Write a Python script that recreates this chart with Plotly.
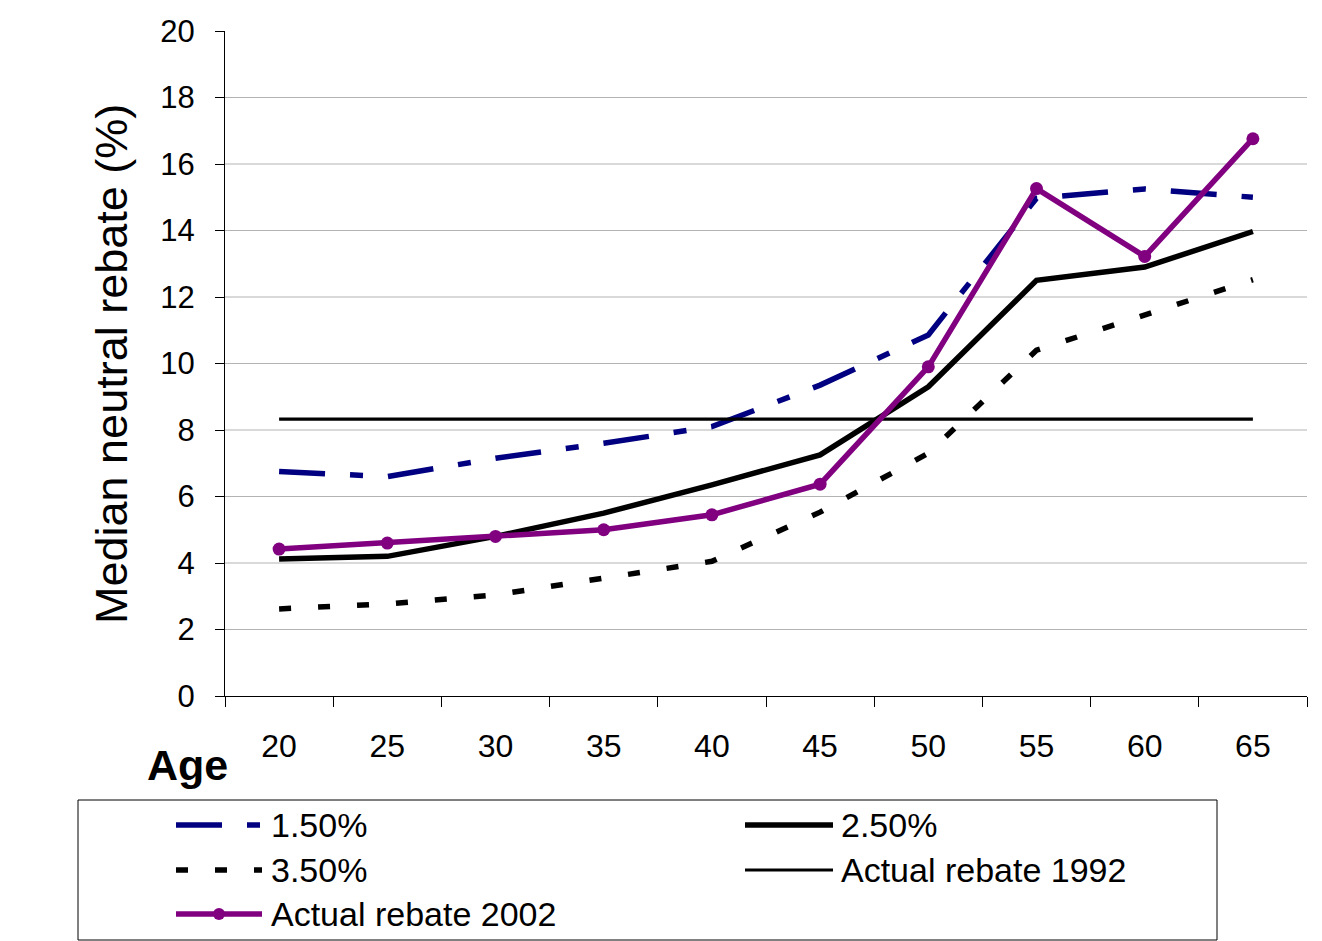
import plotly.graph_objects as go

# Age bands on the category axis
ages = ["20", "25", "30", "35", "40", "45", "50", "55", "60", "65"]

# Median neutral rebate (%) by discount rate
rate_150 = [6.75, 6.6, 7.15, 7.6, 8.1, 9.35, 10.86, 14.97, 15.25, 15.0]
rate_250 = [4.12, 4.2, 4.8, 5.5, 6.35, 7.25, 9.3, 12.5, 12.9, 13.97]
rate_350 = [2.62, 2.77, 3.04, 3.55, 4.05, 5.53, 7.3, 10.4, 11.45, 12.52]

# Actual rebates
rebate_1992 = [8.33] * 10
rebate_2002 = [4.42, 4.6, 4.8, 5.0, 5.45, 6.37, 9.9, 15.26, 13.22, 16.76]

y_ticks = list(range(0, 21, 2))
grid_levels = y_ticks[1:-1]

NAVY = "#000080"
PURPLE = "#800080"
FONT = "Liberation Sans, Arial, sans-serif"

# plot-area geometry in pixels
L, R, T, B = 225, 1307, 31, 696
W, H = R - L, B - T


def px(x):
    return (x - L) / W


def py(y):
    return (B - y) / H


fig = go.Figure()
fig.add_trace(go.Scatter(x=ages, y=rate_150, mode="lines", name="1.50%",
                         line=dict(color=NAVY, width=5.5, dash="46px,25px,13px,25px")))
fig.add_trace(go.Scatter(x=ages, y=rate_250, mode="lines", name="2.50%",
                         line=dict(color="black", width=5.5)))
fig.add_trace(go.Scatter(x=ages, y=rate_350, mode="lines", name="3.50%",
                         line=dict(color="black", width=5.5, dash="12px,27px")))
fig.add_trace(go.Scatter(x=ages, y=rebate_1992, mode="lines", name="Actual rebate 1992",
                         line=dict(color="black", width=3.2)))
fig.add_trace(go.Scatter(x=ages, y=rebate_2002, mode="lines+markers", name="Actual rebate 2002",
                         line=dict(color=PURPLE, width=5.5),
                         marker=dict(color=PURPLE, size=13)))

shapes = []
# horizontal gridlines
for g in grid_levels:
    shapes.append(dict(type="line", xref="paper", yref="y", x0=0, x1=1, y0=g, y1=g,
                       line=dict(color="#b3b3b3", width=1), layer="below"))

# legend box
shapes.append(dict(type="rect", xref="paper", yref="paper",
                   x0=px(78), x1=px(1217), y0=py(940), y1=py(800),
                   line=dict(color="black", width=1), fillcolor="white", layer="above"))

rows = [825, 870, 914]
col1 = (176, 262, 269)
col2 = (745, 833, 839)

legend_items = [
    ("1.50%", col1, rows[0], dict(color=NAVY, width=5.5, dash="46px,25px,13px,25px"), False),
    ("2.50%", col2, rows[0], dict(color="black", width=5.5), False),
    ("3.50%", col1, rows[1], dict(color="black", width=5.5, dash="12px,27px"), False),
    ("Actual rebate 1992", col2, rows[1], dict(color="black", width=3.2), False),
    ("Actual rebate 2002", col1, rows[2], dict(color=PURPLE, width=5.5), True),
]

annotations = []
for label, (sx0, sx1, tx), ry, ln, marker in legend_items:
    shapes.append(dict(type="line", xref="paper", yref="paper",
                       x0=px(sx0), x1=px(sx1), y0=py(ry), y1=py(ry), line=ln, layer="above"))
    if marker:
        cx = (sx0 + sx1) / 2
        shapes.append(dict(type="circle", xref="paper", yref="paper",
                           xsizemode="pixel", ysizemode="pixel",
                           xanchor=px(cx), yanchor=py(ry),
                           x0=-6, x1=6, y0=-6, y1=6,
                           fillcolor=PURPLE, line=dict(color=PURPLE, width=0), layer="above"))
    annotations.append(dict(text=label, xref="paper", yref="paper", x=px(tx), y=py(ry),
                            xanchor="left", yanchor="middle", showarrow=False,
                            font=dict(family=FONT, size=34, color="black")))

# axis titles
annotations.append(dict(text="Median neutral rebate (%)", xref="paper", yref="paper",
                        x=px(112), y=py(364), textangle=-90, xanchor="center", yanchor="middle",
                        showarrow=False, font=dict(family=FONT, size=45, color="black")))
annotations.append(dict(text="<b>Age</b>", xref="paper", yref="paper",
                        x=px(187), y=py(765), xanchor="center", yanchor="middle",
                        showarrow=False, font=dict(family=FONT, size=43, color="black")))

fig.update_layout(
    width=1322, height=941,
    margin=dict(l=L, r=1322 - R, t=T, b=941 - B),
    paper_bgcolor="white", plot_bgcolor="white",
    showlegend=False,
    shapes=shapes,
    annotations=annotations,
    font=dict(family=FONT, color="black"),
)
fig.update_xaxes(
    type="category", range=[-0.5, 9.5],
    showline=True, linecolor="black", linewidth=1,
    ticks="outside", tickson="boundaries", ticklen=10, tickcolor="black",
    showgrid=False, zeroline=False,
    tickfont=dict(family=FONT, size=32, color="black"),
    ticklabelstandoff=22,
)
fig.update_yaxes(
    range=[0, 20], tickmode="array", tickvals=y_ticks,
    showline=True, linecolor="black", linewidth=1,
    ticks="outside", ticklen=9, tickcolor="black",
    showgrid=False, zeroline=False,
    tickfont=dict(family=FONT, size=31, color="black"),
    ticklabelstandoff=14,
)

fig.write_html("out.html")
